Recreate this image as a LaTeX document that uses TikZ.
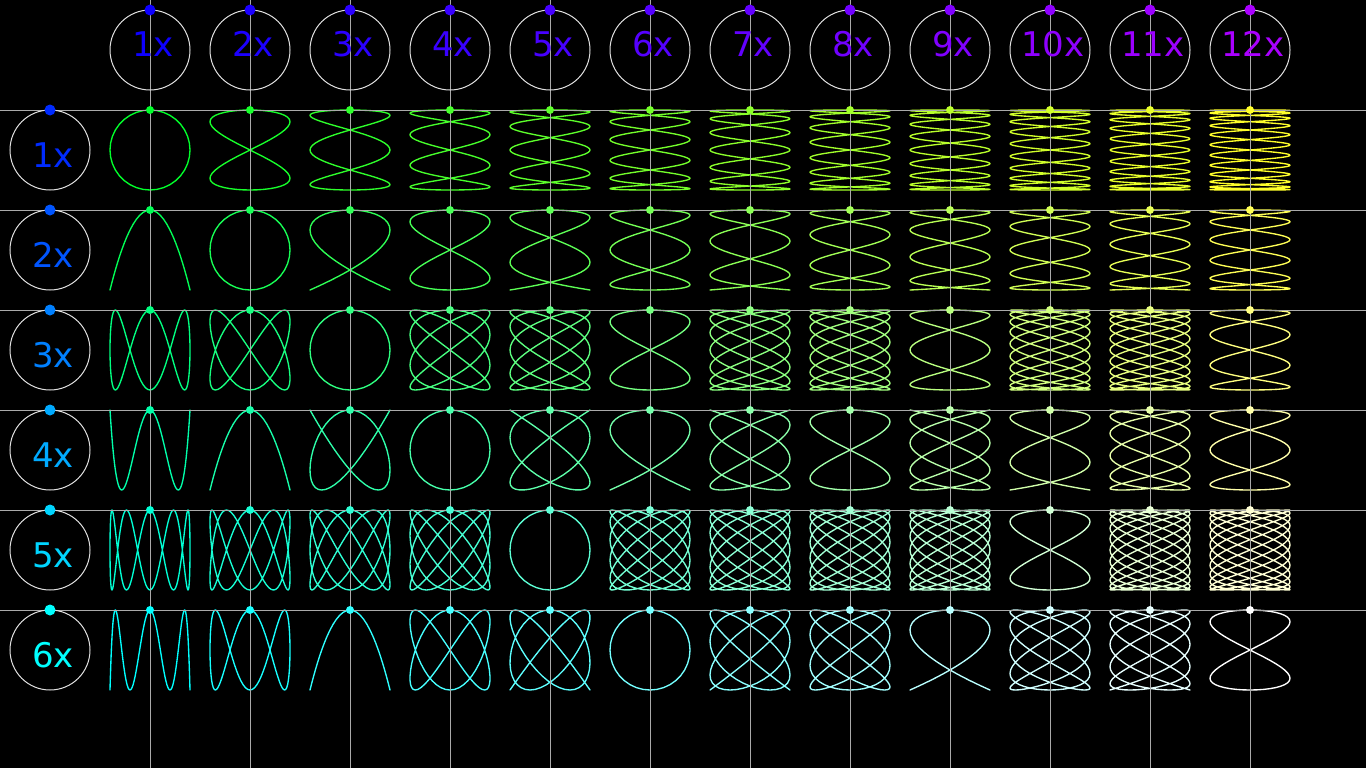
\documentclass[tikz,border=0pt]{standalone}
\usepackage{fontspec}
\setmainfont{DejaVu Sans}
\definecolor{ringcol}{RGB}{225,225,225}
\definecolor{gridcol}{RGB}{170,170,170}
\begin{document}
\begin{tikzpicture}[x=1pt,y=-1pt,
  ring/.style={draw=ringcol, line width=1pt},
  gridline/.style={draw=gridcol, line width=1pt},
  curve/.style={line width=1.35pt, line join=round},
  lbl/.style={anchor=base, inner sep=0pt, font=\fontsize{34pt}{40pt}\selectfont}]
\fill[black] (0,0) rectangle (1366,768);
\useasboundingbox (0,0) rectangle (1366,768);
% Lissajous curves
\foreach \j in {1,...,6}{
  \foreach \i in {1,...,12}{
    \pgfmathsetmacro\cx{150+100*(\i-1)}
    \pgfmathsetmacro\cy{150+100*(\j-1)}
    \pgfmathtruncatemacro\rr{round(255*(\i-1)/11)}
    \pgfmathtruncatemacro\bb{round(255*\j/6)}
    \pgfmathtruncatemacro\ns{36*max(\i,\j)+1}
    \definecolor{cc}{RGB}{\rr,255,\bb}
    \draw[curve, cc] plot[domain=0:360, samples=\ns, variable=\t] ({\cx+40*sin(\i*\t)},{\cy-40*cos(\j*\t)});
  }
}
% grid lines
\foreach \i in {1,...,12}{
  \pgfmathsetmacro\cx{150+100*(\i-1)}
  \coordinate (vt\i) at (\cx,0);
  \coordinate (vb\i) at (\cx,768);
  \draw[gridline] (vt\i) -- (vb\i);
}
\foreach \j in {1,...,6}{
  \pgfmathsetmacro\cy{110+100*(\j-1)}
  \coordinate (hl\j) at (0,\cy);
  \coordinate (hr\j) at (1366,\cy);
  \draw[gridline] (hl\j) -- (hr\j);
}
% column headers
\foreach \i in {1,...,12}{
  \pgfmathsetmacro\cx{150+100*(\i-1)}
  \pgfmathtruncatemacro\hr{round(255*\i/18)}
  \definecolor{hc}{RGB}{\hr,0,255}
  \draw[ring] (\cx,50) circle[radius=40pt];
  \fill[hc] (\cx,10) circle[radius=5.5pt];
  \node[lbl, text=hc] (col\i) at (\cx+3,57) {\i x};
}
% row headers
\foreach \j in {1,...,6}{
  \pgfmathsetmacro\cy{150+100*(\j-1)}
  \pgfmathtruncatemacro\hg{round(255*\j/6)}
  \definecolor{hc}{RGB}{0,\hg,255}
  \draw[ring] (50,\cy) circle[radius=40pt];
  \fill[hc] (50,\cy-40) circle[radius=5.5pt];
  \node[lbl, text=hc] (row\j) at (53,\cy+17) {\j x};
}
% cell dots
\foreach \j in {1,...,6}{
  \foreach \i in {1,...,12}{
    \pgfmathsetmacro\cx{150+100*(\i-1)}
    \pgfmathsetmacro\cy{150+100*(\j-1)}
    \pgfmathtruncatemacro\rr{round(255*(\i-1)/11)}
    \pgfmathtruncatemacro\bb{round(255*\j/6)}
    \definecolor{cc}{RGB}{\rr,255,\bb}
    \fill[cc] (\cx,\cy-40) circle[radius=4pt];
  }
}
\end{tikzpicture}
\end{document}
